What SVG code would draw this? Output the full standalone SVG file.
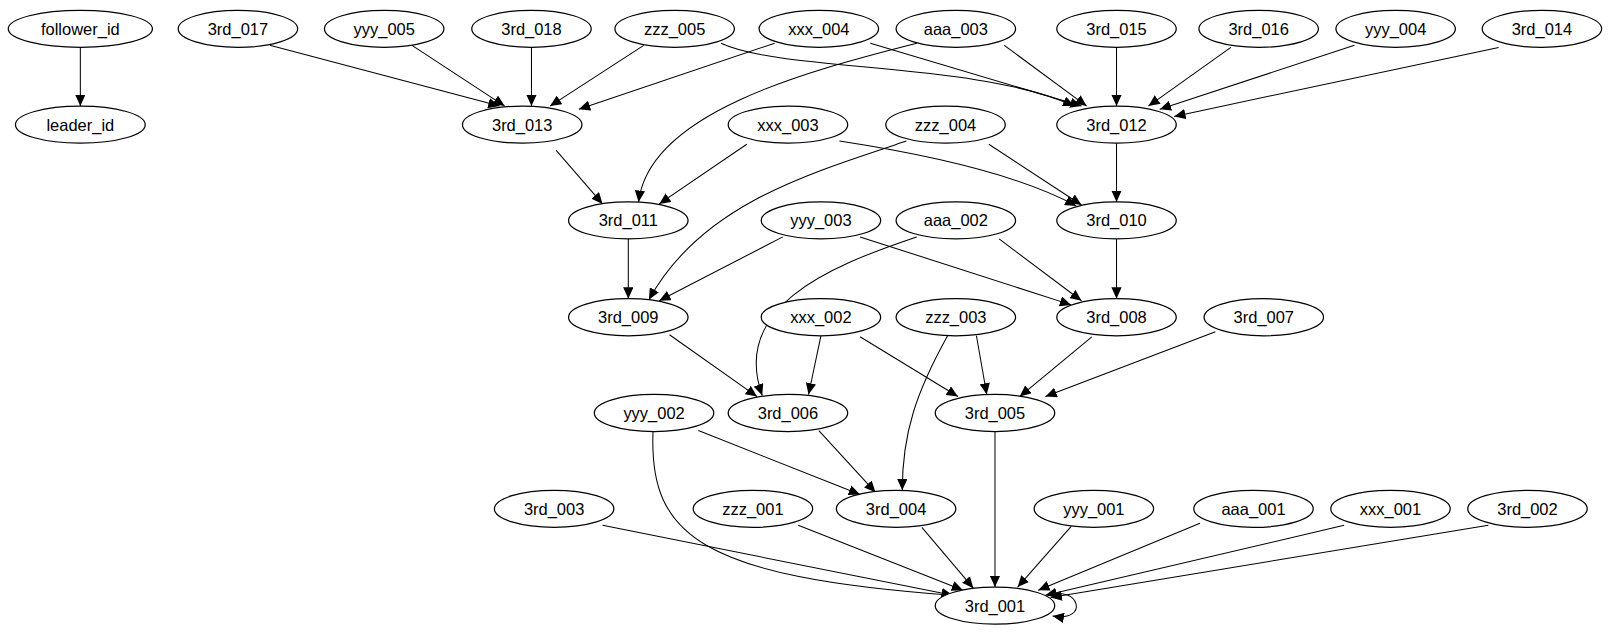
<svg xmlns="http://www.w3.org/2000/svg" width="1615" height="635" viewBox="0 0 1615 635">
<style>
.n ellipse{fill:#fff;stroke:#000;stroke-width:1.2}
.n text{font-family:"Liberation Sans",Arial,sans-serif;font-size:16px;text-anchor:middle;dominant-baseline:central}
#edges path{fill:none;stroke:#000;stroke-width:1;marker-end:url(#a)}
</style>
<defs><marker id="a" markerUnits="userSpaceOnUse" markerWidth="12" markerHeight="10" refX="11" refY="5" orient="auto"><path d="M0,0 L11,5 L0,10z" fill="#000"/></marker></defs>
<rect width="1615" height="635" fill="#fff"/>
<g transform="scale(1.03)">
<g id="edges">
<path d="M78,46 V103"/>
<path d="M262,44 L485,103"/><path d="M400,44 L490,103"/><path d="M516,46 V103"/><path d="M625,44 L534,103"/><path d="M752,42 L562,106"/>
<path d="M700,42 C760,70 950,60 1043,103"/><path d="M845,42 L1050,103"/><path d="M975,44 L1055,103"/><path d="M1084,46 V103"/><path d="M1195,46 L1115,103"/><path d="M1315,44 L1126,106"/><path d="M1455,46 L1140,113"/>
<path d="M890,42 C780,70 630,110 620,196"/>
<path d="M540,146 L585,198"/><path d="M725,140 L640,198"/>
<path d="M815,137 C900,150 990,170 1045,200"/><path d="M960,140 L1050,199"/><path d="M1084,139 V196"/>
<path d="M880,137 C780,170 680,200 630,291"/>
<path d="M610,232 V290"/><path d="M760,230 L640,292"/>
<path d="M835,230 L1040,296"/><path d="M970,232 L1050,292"/><path d="M1084,232 V290"/>
<path d="M890,230 C800,260 710,300 740,384"/>
<path d="M650,325 L735,385"/><path d="M797,326 L785,383"/>
<path d="M835,327 L930,385"/><path d="M948,326 L958,383"/><path d="M1060,327 L990,385"/><path d="M1180,322 L1015,385"/>
<path d="M920,326 C890,380 876,420 876,476"/>
<path d="M678,418 L835,480"/><path d="M795,418 L850,478"/>
<path d="M634,419 C630,520 680,560 925,578"/>
<path d="M585,510 L925,578"/><path d="M775,510 L935,573"/><path d="M895,512 L945,571"/><path d="M966,419 V570"/><path d="M1040,511 L988,570"/><path d="M1165,508 L1008,573"/><path d="M1305,510 L1015,578"/><path d="M1445,510 L1020,580"/>
<path d="M1018,578 C1048,568 1058,604 1022,598"/>
</g>
<g class="n" id="follower_id"><ellipse cx="78" cy="28" rx="70" ry="18"/><text x="78" y="28">follower_id</text></g>
<g class="n" id="leader_id"><ellipse cx="78" cy="121" rx="63" ry="18"/><text x="78" y="121">leader_id</text></g>
<g class="n" id="n3rd_017"><ellipse cx="231" cy="28" rx="58" ry="18"/><text x="231" y="28">3rd_017</text></g>
<g class="n" id="yyy_005"><ellipse cx="373" cy="28" rx="58" ry="18"/><text x="373" y="28">yyy_005</text></g>
<g class="n" id="n3rd_018"><ellipse cx="516" cy="28" rx="58" ry="18"/><text x="516" y="28">3rd_018</text></g>
<g class="n" id="zzz_005"><ellipse cx="655" cy="28" rx="58" ry="18"/><text x="655" y="28">zzz_005</text></g>
<g class="n" id="xxx_004"><ellipse cx="795" cy="28" rx="58" ry="18"/><text x="795" y="28">xxx_004</text></g>
<g class="n" id="aaa_003"><ellipse cx="928" cy="28" rx="58" ry="18"/><text x="928" y="28">aaa_003</text></g>
<g class="n" id="n3rd_015"><ellipse cx="1084" cy="28" rx="58" ry="18"/><text x="1084" y="28">3rd_015</text></g>
<g class="n" id="n3rd_016"><ellipse cx="1222" cy="28" rx="58" ry="18"/><text x="1222" y="28">3rd_016</text></g>
<g class="n" id="yyy_004"><ellipse cx="1355" cy="28" rx="58" ry="18"/><text x="1355" y="28">yyy_004</text></g>
<g class="n" id="n3rd_014"><ellipse cx="1497" cy="28" rx="58" ry="18"/><text x="1497" y="28">3rd_014</text></g>
<g class="n" id="n3rd_013"><ellipse cx="507" cy="121" rx="58" ry="18"/><text x="507" y="121">3rd_013</text></g>
<g class="n" id="xxx_003"><ellipse cx="765" cy="121" rx="58" ry="18"/><text x="765" y="121">xxx_003</text></g>
<g class="n" id="zzz_004"><ellipse cx="918" cy="121" rx="58" ry="18"/><text x="918" y="121">zzz_004</text></g>
<g class="n" id="n3rd_012"><ellipse cx="1084" cy="121" rx="58" ry="18"/><text x="1084" y="121">3rd_012</text></g>
<g class="n" id="n3rd_011"><ellipse cx="610" cy="214" rx="58" ry="18"/><text x="610" y="214">3rd_011</text></g>
<g class="n" id="yyy_003"><ellipse cx="797" cy="214" rx="58" ry="18"/><text x="797" y="214">yyy_003</text></g>
<g class="n" id="aaa_002"><ellipse cx="928" cy="214" rx="58" ry="18"/><text x="928" y="214">aaa_002</text></g>
<g class="n" id="n3rd_010"><ellipse cx="1084" cy="214" rx="58" ry="18"/><text x="1084" y="214">3rd_010</text></g>
<g class="n" id="n3rd_009"><ellipse cx="610" cy="308" rx="58" ry="18"/><text x="610" y="308">3rd_009</text></g>
<g class="n" id="xxx_002"><ellipse cx="797" cy="308" rx="58" ry="18"/><text x="797" y="308">xxx_002</text></g>
<g class="n" id="zzz_003"><ellipse cx="928" cy="308" rx="58" ry="18"/><text x="928" y="308">zzz_003</text></g>
<g class="n" id="n3rd_008"><ellipse cx="1084" cy="308" rx="58" ry="18"/><text x="1084" y="308">3rd_008</text></g>
<g class="n" id="n3rd_007"><ellipse cx="1227" cy="308" rx="58" ry="18"/><text x="1227" y="308">3rd_007</text></g>
<g class="n" id="yyy_002"><ellipse cx="635" cy="401" rx="58" ry="18"/><text x="635" y="401">yyy_002</text></g>
<g class="n" id="n3rd_006"><ellipse cx="765" cy="401" rx="58" ry="18"/><text x="765" y="401">3rd_006</text></g>
<g class="n" id="n3rd_005"><ellipse cx="966" cy="401" rx="58" ry="18"/><text x="966" y="401">3rd_005</text></g>
<g class="n" id="n3rd_003"><ellipse cx="538" cy="494" rx="58" ry="18"/><text x="538" y="494">3rd_003</text></g>
<g class="n" id="zzz_001"><ellipse cx="731" cy="494" rx="58" ry="18"/><text x="731" y="494">zzz_001</text></g>
<g class="n" id="n3rd_004"><ellipse cx="870" cy="494" rx="58" ry="18"/><text x="870" y="494">3rd_004</text></g>
<g class="n" id="yyy_001"><ellipse cx="1062" cy="494" rx="58" ry="18"/><text x="1062" y="494">yyy_001</text></g>
<g class="n" id="aaa_001"><ellipse cx="1217" cy="494" rx="58" ry="18"/><text x="1217" y="494">aaa_001</text></g>
<g class="n" id="xxx_001"><ellipse cx="1350" cy="494" rx="58" ry="18"/><text x="1350" y="494">xxx_001</text></g>
<g class="n" id="n3rd_002"><ellipse cx="1483" cy="494" rx="58" ry="18"/><text x="1483" y="494">3rd_002</text></g>
<g class="n" id="n3rd_001"><ellipse cx="966" cy="588" rx="58" ry="18"/><text x="966" y="588">3rd_001</text></g>
</g>
</svg>
